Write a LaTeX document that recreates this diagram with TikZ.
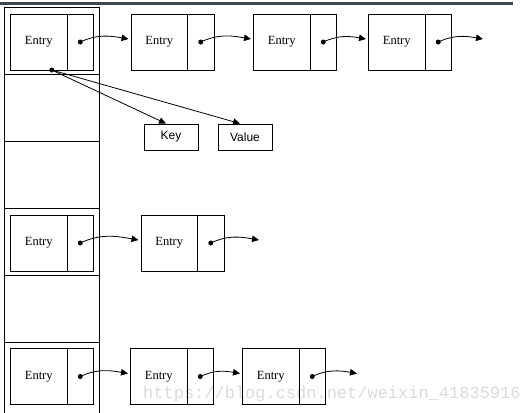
\documentclass[tikz,border=0pt]{standalone}
\usepackage{fontspec}
\setmainfont{Liberation Serif}
\newfontfamily\sansf{Liberation Sans}
\newfontfamily\monof{Liberation Mono}
\usetikzlibrary{arrows.meta}
\definecolor{barcol}{RGB}{64,70,78}
\begin{document}
\begin{tikzpicture}[x=1pt,y=-1pt,
  entrybox/.style={draw, line width=0.9pt, outer sep=0pt, minimum width=56.5pt, minimum height=56pt, inner sep=0pt, anchor=west, font=\fontsize{12.5}{14}\selectfont},
  ptrbox/.style={draw, line width=0.9pt, outer sep=0pt, minimum width=26.5pt, minimum height=56pt, inner sep=0pt, anchor=west},
  kvbox/.style={draw, line width=0.9pt, minimum width=54pt, minimum height=26pt, inner sep=0pt, font=\sansf\fontsize{12}{14}\selectfont},
  dotnode/.style={circle, fill=black, inner sep=0pt, minimum size=5pt},
  link/.style={line width=0.8pt, -{Triangle[length=7pt,width=6.5pt]}, out=25, in=170},
  straightlink/.style={line width=0.8pt, -{Triangle[length=7pt,width=6.5pt]}},
  colline/.style={line width=0.9pt}]
\useasboundingbox (0,0) rectangle (523,413);
% top bar
\fill[barcol] (0,1.5) rectangle (513,5);
% bucket column
\draw[colline] (4.3,413) -- (4.3,7) -- (99.3,7) -- (99.3,413);
\foreach \yy in {74,141,208,275,342} \draw[colline] (4.3,\yy) -- (99.3,\yy);
% watermark
\node[anchor=base west, text=black!14, font=\monof\fontsize{17}{20}\selectfont, inner sep=0pt] (wm) at (143,398) {https://blog.csdn.net/weixin\_41835916};
% row 1
\node[entrybox] (e11) at (10.5,42) {Entry};
\node[ptrbox] (p11) at (e11.east) {};
\node[entrybox] (e12) at (131,42) {Entry};
\node[ptrbox] (p12) at (e12.east) {};
\node[entrybox] (e13) at (253.5,42) {Entry};
\node[ptrbox] (p13) at (e13.east) {};
\node[entrybox] (e14) at (368.5,42) {Entry};
\node[ptrbox] (p14) at (e14.east) {};
\node[dotnode] (d11) at (p11.center) {};
\node[dotnode] (d12) at (p12.center) {};
\node[dotnode] (d13) at (p13.center) {};
\node[dotnode] (d14) at (p14.center) {};
\coordinate (end1) at (483,39);
\draw[link] (d11.center) to ([shift={(-2.5pt,3pt)}]e12.west);
\draw[link] (d12.center) to ([shift={(-2.5pt,3pt)}]e13.west);
\draw[link] (d13.center) to ([shift={(-2.5pt,3pt)}]e14.west);
\draw[link] (d14.center) to (end1);
% key / value
\node[kvbox] (key) at (171,137) {Key};
\node[kvbox] (val) at (245,137) {Value};
\node[dotnode] (kd) at ([xshift=13pt]e11.south) {};
\draw[straightlink] (kd.center) -- ([xshift=-5pt]key.north);
\draw[straightlink] (kd.center) -- ([xshift=-5pt]val.north);
% row 4
\node[entrybox] (e41) at (10.5,243) {Entry};
\node[ptrbox] (p41) at (e41.east) {};
\node[entrybox] (e42) at (141,243) {Entry};
\node[ptrbox] (p42) at (e42.east) {};
\node[dotnode] (d41) at (p41.center) {};
\node[dotnode] (d42) at (p42.center) {};
\coordinate (end4) at (259,240);
\draw[link] (d41.center) to ([shift={(-2.5pt,3pt)}]e42.west);
\draw[link] (d42.center) to (end4);
% row 6
\node[entrybox] (e61) at (10.5,376.5) {Entry};
\node[ptrbox] (p61) at (e61.east) {};
\node[entrybox] (e62) at (130.5,376.5) {Entry};
\node[ptrbox] (p62) at (e62.east) {};
\node[entrybox] (e63) at (242.5,376.5) {Entry};
\node[ptrbox] (p63) at (e63.east) {};
\node[dotnode] (d61) at (p61.center) {};
\node[dotnode] (d62) at (p62.center) {};
\node[dotnode] (d63) at (p63.center) {};
\coordinate (end6) at (357,373.5);
\draw[link] (d61.center) to ([shift={(-2.5pt,3pt)}]e62.west);
\draw[link] (d62.center) to ([shift={(-2.5pt,3pt)}]e63.west);
\draw[link] (d63.center) to (end6);
\end{tikzpicture}
\end{document}
